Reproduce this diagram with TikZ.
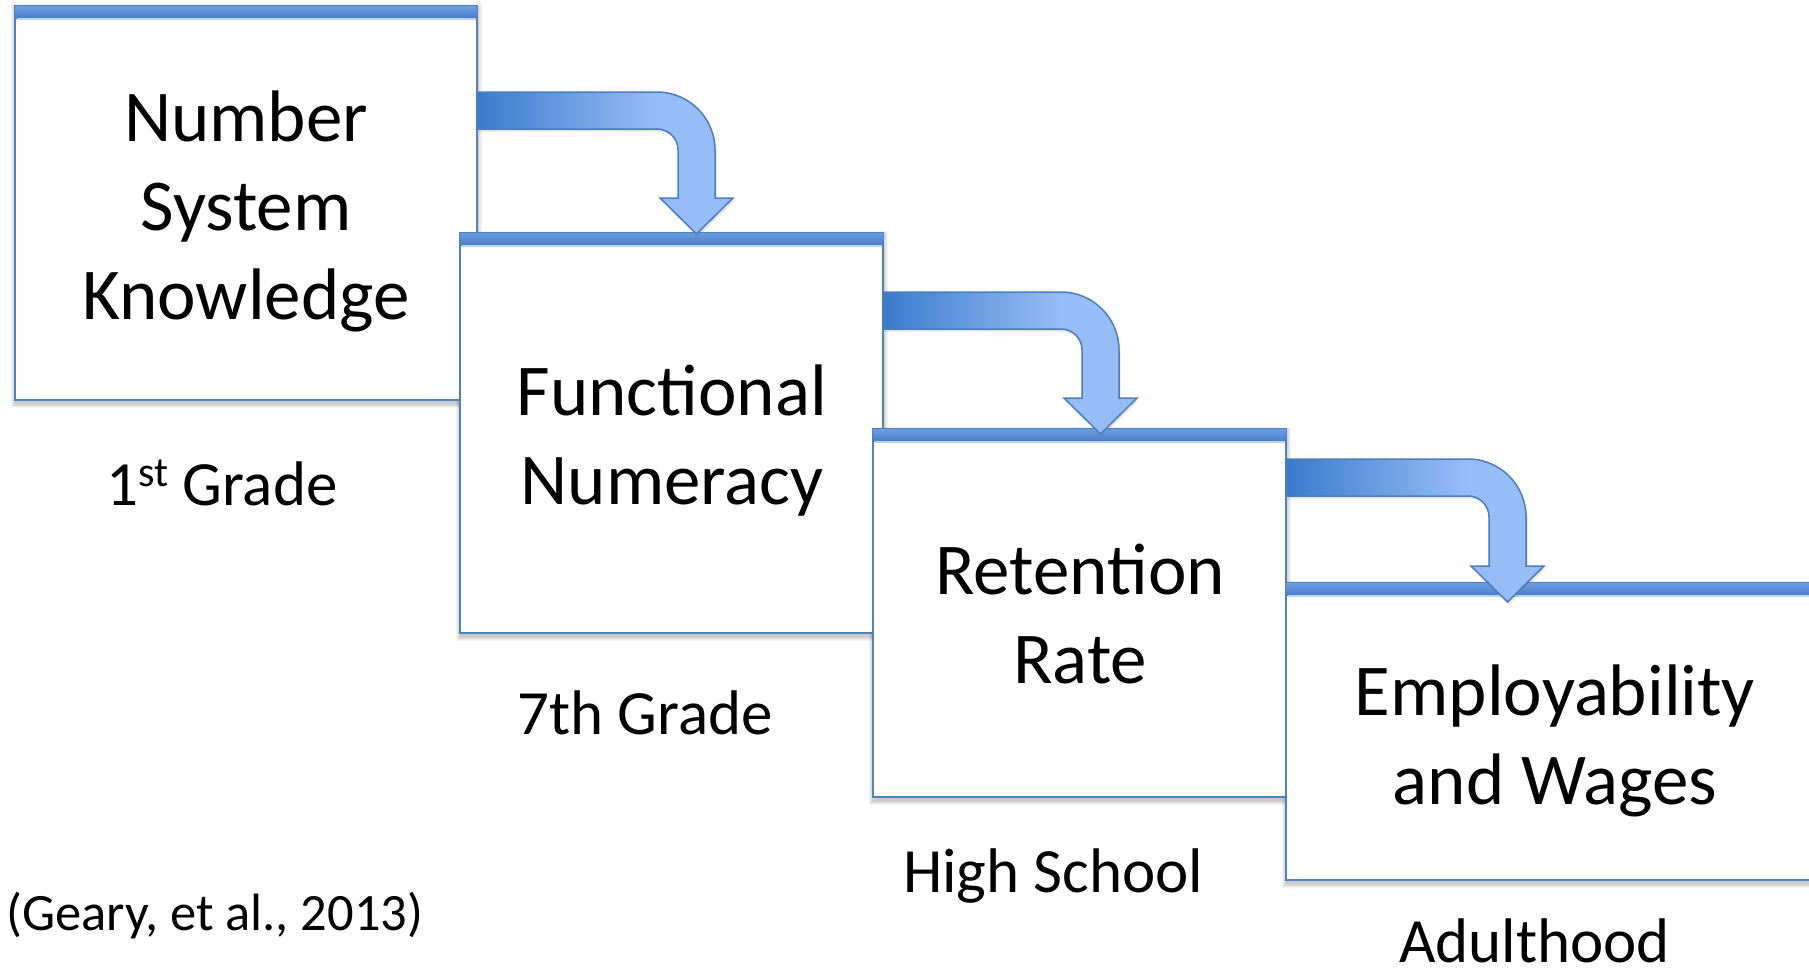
\documentclass[tikz,border=0pt]{standalone}
\usepackage{fontspec}
\setmainfont{Carlito}
\usetikzlibrary{shadows,backgrounds,calc}
\definecolor{boxblue}{HTML}{4F81BD}
\definecolor{bartop}{HTML}{6C9DE2}
\definecolor{barbot}{HTML}{4A7ECA}
\definecolor{barline}{HTML}{BCD2EE}
\definecolor{arrdark}{HTML}{3B7BCC}
\definecolor{arrlight}{HTML}{96BDF6}
\definecolor{arrline}{HTML}{4A7EBF}
\pgfdeclarehorizontalshading{arrowgrad}{100bp}{color(0bp)=(arrdark); color(25bp)=(arrdark); color(60bp)=(arrlight); color(100bp)=(arrlight)}

\tikzset{
  stagebox/.style={draw=boxblue, line width=2.5pt, fill=white, inner sep=0pt, outer sep=0pt, anchor=north west},
  topbar/.style={top color=bartop, bottom color=barbot, draw=none},
  bigtext/.style={font=\fontsize{73}{89}\selectfont, inner sep=0pt, anchor=base},
  labeltext/.style={font=\fontsize{63}{76}\selectfont, inner sep=0pt, anchor=base west},
  citetext/.style={font=\fontsize{52.5}{63}\selectfont, inner sep=0pt, anchor=base west},
  bent/.style={shading=arrowgrad, draw=arrline, line width=1.5pt, line join=miter,
    drop shadow={opacity=0.22, shadow xshift=1.5pt, shadow yshift=-2.5pt}},
}

% name, x1, y1, x2, y2 (pixel coordinates, y downwards)
\newcommand\mkstage[5]{%
  \begin{pgfonlayer}{background}
    \foreach \k in {1,...,5} {\fill[black, opacity=0.045] (#2-\k+0.5, #3+3-\k) rectangle (#4+\k-0.5, #5+3+\k);}
  \end{pgfonlayer}
  \node[stagebox, minimum width={(#4-#2)*1pt}, minimum height={(#5-#3)*1pt}] (#1) at (#2,#3) {};
  \fill[topbar] (#1.north west) rectangle ($(#1.north east)+(0,12)$);
  \draw[barline, line width=1.5pt] ($(#1.north west)+(1.5,13)$) -- ($(#1.north east)+(-1.5,13)$);
}

% x0, bar top, outer shaft x, head top
\newcommand\bentarrow[4]{%
  \path[bent] (#1,#2) -- ({#3-58},#2) .. controls ({#3-26},#2) and (#3,{#2+26}) .. (#3,{#2+58})
    -- (#3,#4) -- ({#3+18},#4) -- ({#3-18.5},{#4+36}) -- ({#3-55},#4) -- ({#3-37},#4)
    -- ({#3-37},{#2+58}) .. controls ({#3-37},{#2+46.4}) and ({#3-46.4},{#2+37}) .. ({#3-58},{#2+37})
    -- (#1,{#2+37}) -- cycle;
}

\begin{document}
\begin{tikzpicture}[x=1pt, y=-1pt]
\useasboundingbox (0,0) rectangle (1809,978);
\begin{pgfonlayer}{background}
  \fill[white] (0,0) rectangle (1809,978);
\end{pgfonlayer}

\mkstage{b1}{15}{6}{477}{400}
\mkstage{b2}{460}{233}{883}{633}
\mkstage{b3}{873}{429}{1286}{797}
\mkstage{b4}{1286}{583}{1823}{880}

\node[bigtext] (t1) at (246,141) {\begin{tabular}[t]{@{}c@{}}Number\\System\\Knowledge\end{tabular}};
\node[bigtext] (t2) at (672,415) {\begin{tabular}[t]{@{}c@{}}Functional\\Numeracy\end{tabular}};
\node[bigtext] (t3) at (1080,594) {\begin{tabular}[t]{@{}c@{}}Retention\\Rate\end{tabular}};
\node[bigtext] (t4) at (1555,715) {\begin{tabular}[t]{@{}c@{}}Employability\\and Wages\end{tabular}};

\bentarrow{477}{92}{715}{198}
\bentarrow{883}{292}{1119}{398}
\bentarrow{1286}{459}{1526}{566}

\node[labeltext] (l1) at (106,505) {1\raisebox{19pt}{\fontsize{42}{42}\selectfont st} Grade};
\node[labeltext] (l2) at (517,734) {7th Grade};
\node[labeltext] (l3) at (903,892) {High School};
\node[labeltext] (l4) at (1399,962) {Adulthood};
\node[citetext] (cite) at (6,930) {(Geary, et al., 2013)};
\end{tikzpicture}
\end{document}
